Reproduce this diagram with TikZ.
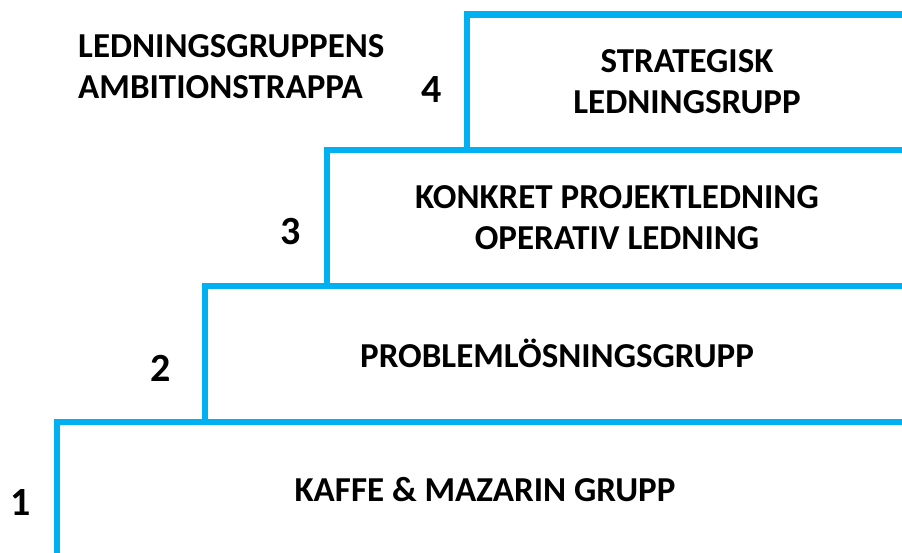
\documentclass[tikz,border=0pt]{standalone}
\usepackage{fontspec}
\setmainfont{Carlito}
\definecolor{stairblue}{HTML}{00B0F0}
\begin{document}
\begin{tikzpicture}[x=1pt,y=-1pt,
  stair/.style={draw=stairblue,line width=6.5pt,line cap=butt,line join=miter},
  steptext/.style={font=\bfseries\fontsize{35}{41}\selectfont,align=center,inner sep=0pt},
  stepnum/.style={font=\bfseries\fontsize{40}{44}\selectfont,inner sep=0pt}]
\useasboundingbox (0,0) rectangle (902,553);
% staircase outline, each tread running to the right edge
\coordinate (s1) at (57,560);
\coordinate (c1) at (57,422);
\coordinate (c2) at (205,422);
\coordinate (c2t) at (205,286);
\coordinate (c3) at (327,286);
\coordinate (c3t) at (327,150);
\coordinate (c4) at (467,150);
\coordinate (c4t) at (467,14.5);
\coordinate (e1) at (910,422);
\coordinate (e2) at (910,286);
\coordinate (e3) at (910,150);
\coordinate (e4) at (910,14.5);
\draw[stair] (s1) -- (c1) -- (e1);
\draw[stair] (c2) -- (c2t) -- (e2);
\draw[stair] (c3) -- (c3t) -- (e3);
\draw[stair] (c4) -- (c4t) -- (e4);
% step labels
\node[steptext] (t4) at (687,82) {STRATEGISK\\LEDNINGSRUPP};
\node[steptext] (t3) at (617,218) {KONKRET PROJEKTLEDNING\\OPERATIV LEDNING};
\node[steptext] (t2) at (557,353) {PROBLEMLÖSNINGSGRUPP};
\node[steptext] (t1) at (485,490) {KAFFE \& MAZARIN GRUPP};
% step numbers
\node[stepnum] (n4) at (432,90) {4};
\node[stepnum] (n3) at (291,232) {3};
\node[stepnum] (n2) at (161,368) {2};
\node[stepnum] (n1) at (21,503) {1};
% title
\node[steptext,align=left,anchor=west] (title) at (78,67) {LEDNINGSGRUPPENS\\AMBITIONSTRAPPA};
\end{tikzpicture}
\end{document}
